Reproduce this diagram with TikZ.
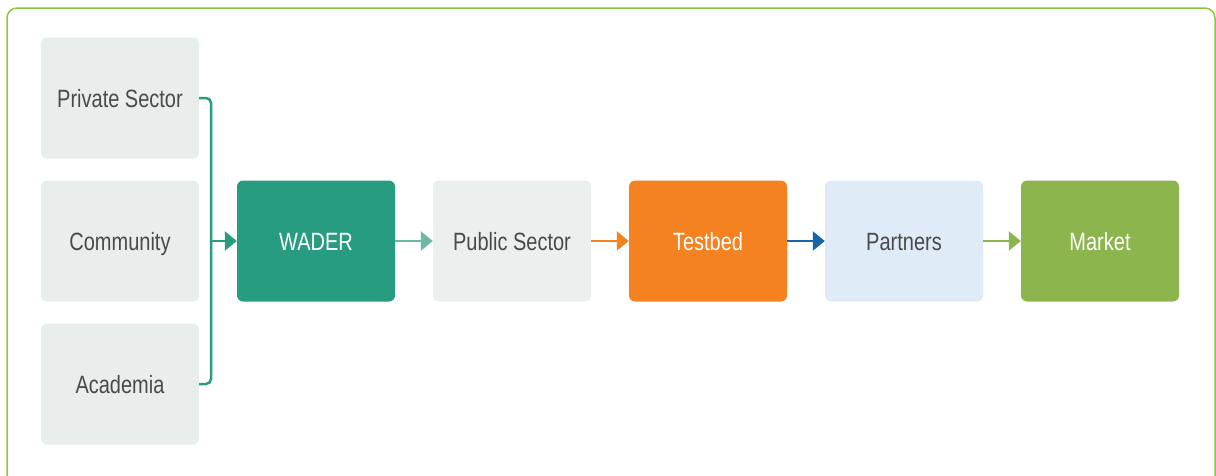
\documentclass[tikz,border=0pt]{standalone}
\usepackage{fontspec}
\setmainfont[FakeStretch=0.8]{Liberation Sans}
\usetikzlibrary{arrows.meta}
\definecolor{frame}{HTML}{8DC63F}
\definecolor{pale}{HTML}{E8EEEC}
\definecolor{palegrey}{HTML}{EBF0EE}
\definecolor{paleblue}{HTML}{DFEBF7}
\definecolor{teal}{HTML}{279C80}
\definecolor{lightteal}{HTML}{6CB9A4}
\definecolor{orange}{HTML}{F58220}
\definecolor{blue}{HTML}{1565A8}
\definecolor{green}{HTML}{8DB54D}
\definecolor{textgrey}{HTML}{4A4A4A}
\tikzset{
    box/.style ={
        shape=rectangle,
        rounded corners=6pt,
        minimum width=158pt,
        minimum height=121pt,
        inner sep=0pt,
        text height=18pt,
        text depth=0pt,
        font=\fontsize{25}{28}\selectfont
    },
    light/.style ={
        box,
        fill=#1,
        text=textgrey
    },
    dark/.style ={
        box,
        fill=#1,
        text=white
    },
    flow/.style ={
        draw=#1,
        line width=2.5pt,
        -{Triangle[length=12pt,width=19pt]}
    }
}
\begin{document}
\begin{tikzpicture}[x=1pt,y=-1pt]
    \useasboundingbox (0,0) rectangle (1216,475);
    \clip (0,0) rectangle (1216,475);
    \draw[frame, line width=1.5pt, rounded corners=10pt] (7,8) rectangle (1215,500);
    \node[light=pale] (priv) at(120,98) {Private Sector};
    \node[light=pale] (comm) at(120,241) {Community};
    \node[light=pale] (acad) at(120,384) {Academia};
    \node[dark=teal] (wader) at(316,241) {WADER};
    \node[light=palegrey] (public) at(512,241) {Public Sector};
    \node[dark=orange] (testbed) at(708,241) {Testbed};
    \node[light=paleblue] (partners) at(904,241) {Partners};
    \node[dark=green] (market) at(1100,241) {Market};
    \coordinate (joint) at(211,241);
    \draw[teal, line width=2.5pt, rounded corners=5pt]
        (priv.east) -- (joint |- priv.east) -- (joint |- acad.east) -- (acad.east);
    \draw[flow=teal] (joint) -- (wader);
    \draw[flow=lightteal] (wader) -- (public);
    \draw[flow=orange] (public) -- (testbed);
    \draw[flow=blue] (testbed) -- (partners);
    \draw[flow=green] (partners) -- (market);
\end{tikzpicture}
\end{document}
